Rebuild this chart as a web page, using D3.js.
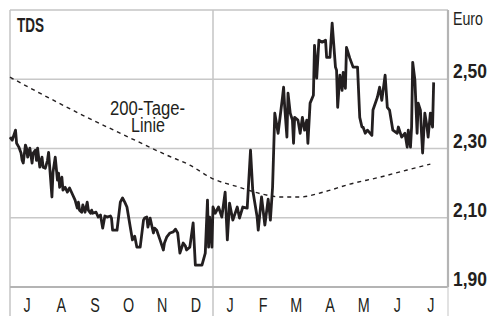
<!DOCTYPE html>
<html>
<head>
<meta charset="utf-8">
<script src="https://cdn.jsdelivr.net/npm/d3@7"></script>
<style>
  body { margin: 0; background: #fff; }
  svg text { font-family: "Liberation Sans", Arial, sans-serif; fill: #231f20; }
</style>
</head>
<body>
<script>
document.addEventListener("DOMContentLoaded", () => {
  // days since 1 July, closing price in Euro
  const priceDays = [0,2,5,6,8,10,11,12,14,15,16,18,20,21,23,24,25,27,29,30,32,34,35,36,38,39,41,43,44,45,47,48,50,52,54,57,59,61,62,63,65,66,68,70,71,73,74,75,78,80,82,84,86,88,91,92,93,97,100,102,104,106,109,111,113,115,118,121,122,124,125,127,130,131,133,136,139,140,142,145,148,150,152,154,157,159,160,163,166,168,170,174,177,179,180,181,183,184,186,189,192,195,197,199,202,206,208,211,215,218,220,224,225,228,231,234,236,238,240,243,247,248,249,251,252,254,256,257,258,261,263,265,267,269,270,272,275,276,278,280,283,286,287,290,292,295,296,297,299,301,302,304,305,308,311,315,317,319,320,322,324,328,329,333,335,337,340,342,344,347,351,352,355,358,360,361,363,364,365,367,369,370,372,373,374,376,378,379,381,383,384];
  const priceValues = [2.333,2.324,2.353,2.315,2.304,2.287,2.266,2.258,2.310,2.301,2.275,2.301,2.258,2.287,2.295,2.266,2.301,2.246,2.275,2.246,2.243,2.266,2.289,2.246,2.160,2.232,2.275,2.209,2.229,2.188,2.217,2.180,2.188,2.174,2.186,2.165,2.151,2.128,2.145,2.122,2.116,2.137,2.116,2.145,2.122,2.113,2.122,2.113,2.116,2.102,2.108,2.070,2.105,2.102,2.105,2.099,2.064,2.064,2.145,2.157,2.145,2.131,2.073,2.036,2.047,2.015,2.015,2.093,2.099,2.102,2.073,2.099,2.056,2.070,2.064,2.036,2.007,2.027,2.044,2.056,2.059,2.067,2.056,1.998,2.027,2.018,2.007,2.015,2.085,1.963,1.963,1.963,1.998,2.151,2.015,2.102,2.015,2.131,2.113,2.131,2.102,2.174,2.036,2.142,2.093,2.131,2.099,2.131,2.128,2.295,2.180,2.102,2.064,2.160,2.079,2.154,2.093,2.188,2.402,2.344,2.448,2.477,2.419,2.333,2.460,2.402,2.382,2.315,2.390,2.382,2.344,2.390,2.353,2.382,2.315,2.431,2.454,2.598,2.503,2.613,2.607,2.613,2.563,2.563,2.662,2.535,2.526,2.419,2.512,2.468,2.520,2.474,2.592,2.561,2.535,2.535,2.390,2.362,2.362,2.344,2.353,2.338,2.411,2.448,2.477,2.439,2.512,2.419,2.411,2.353,2.344,2.362,2.333,2.344,2.304,2.353,2.304,2.362,2.549,2.497,2.344,2.431,2.411,2.344,2.287,2.402,2.362,2.333,2.402,2.362,2.491];

  // 200-day moving average
  const avgDays = [0,27,66,104,142,163,183,208,229,245,263,284,308,335,360,381];
  const avgValues = [2.506,2.460,2.396,2.338,2.281,2.252,2.214,2.188,2.168,2.160,2.160,2.174,2.197,2.217,2.238,2.255];

  const monthLabels = ["J","A","S","O","N","D","J","F","M","A","M","J","J"];
  const yTicks = [1.9, 2.1, 2.3, 2.5];

  const w = 489, h = 316;
  const left = 10, right = 448, top = 10, bottom = 287;
  const start = new Date(2023, 6, 1);
  const end = new Date(2024, 7, 1);
  const dayDate = (d) => d3.timeDay.offset(start, d);

  const x = d3.scaleTime().domain([start, end]).range([left, right]);
  const y = d3.scaleLinear().domain([1.9, 2.7]).range([bottom, top]);

  const svg = d3.select("body")
    .append("svg")
    .attr("width", w)
    .attr("height", h);

  // frame + grid
  svg.append("line")
    .attr("x1", left).attr("x2", right).attr("y1", top).attr("y2", top)
    .attr("stroke", "#c4c4c4").attr("stroke-width", 1.5);
  svg.append("line")
    .attr("x1", left).attr("x2", left).attr("y1", top).attr("y2", h)
    .attr("stroke", "#c4c4c4").attr("stroke-width", 1.5);
  svg.append("line")
    .attr("x1", x(new Date(2024, 0, 1))).attr("x2", x(new Date(2024, 0, 1)))
    .attr("y1", top).attr("y2", h)
    .attr("stroke", "#c4c4c4").attr("stroke-width", 1.5);

  svg.selectAll("line.grid")
    .data(yTicks.slice(1))
    .enter()
    .append("line")
    .attr("class", "grid")
    .attr("x1", left).attr("x2", right)
    .attr("y1", (d) => y(d)).attr("y2", (d) => y(d))
    .attr("stroke", "#c8c8c8").attr("stroke-width", 1.5);

  svg.append("line")
    .attr("x1", left).attr("x2", right).attr("y1", y(1.9)).attr("y2", y(1.9))
    .attr("stroke", "#b4b4b4").attr("stroke-width", 2.2);
  svg.append("line")
    .attr("x1", right).attr("x2", right).attr("y1", top).attr("y2", bottom)
    .attr("stroke", "#b4b4b4").attr("stroke-width", 2.2);
  svg.append("line")
    .attr("x1", right).attr("x2", right).attr("y1", bottom).attr("y2", h)
    .attr("stroke", "#cfcfcf").attr("stroke-width", 1.2);

  // month labels centred in each month (condensed)
  const months = d3.timeMonth.range(start, end);
  svg.selectAll("text.month")
    .data(months)
    .enter()
    .append("text")
    .attr("class", "month")
    .attr("transform", (d) => `translate(${(x(d) + x(d3.timeMonth.offset(d, 1))) / 2},312) scale(0.7,1)`)
    .attr("text-anchor", "middle")
    .attr("font-size", 20.5)
    .text((d, i) => monthLabels[i]);

  // y labels
  svg.selectAll("text.ytick")
    .data(yTicks)
    .enter()
    .append("text")
    .attr("class", "ytick")
    .attr("x", 453)
    .attr("y", (d) => y(d) - 1)
    .attr("font-size", 20.5)
    .attr("font-weight", "bold")
    .attr("textLength", 34)
    .attr("lengthAdjust", "spacingAndGlyphs")
    .text((d) => d3.format(".2f")(d).replace(".", ","));

  svg.append("text")
    .attr("x", 453).attr("y", 25)
    .attr("font-size", 18)
    .attr("textLength", 30)
    .attr("lengthAdjust", "spacingAndGlyphs")
    .text("Euro");

  svg.append("text")
    .attr("x", 17).attr("y", 32)
    .attr("font-size", 20)
    .attr("font-weight", "bold")
    .attr("textLength", 27)
    .attr("lengthAdjust", "spacingAndGlyphs")
    .text("TDS");

  svg.append("text")
    .attr("x", 110).attr("y", 115)
    .attr("font-size", 20)
    .attr("textLength", 75)
    .attr("lengthAdjust", "spacingAndGlyphs")
    .text("200-Tage-");
  svg.append("text")
    .attr("x", 131).attr("y", 132)
    .attr("font-size", 20)
    .attr("textLength", 34)
    .attr("lengthAdjust", "spacingAndGlyphs")
    .text("Linie");

  // moving average
  const avg = avgDays.map((d, i) => ({ date: dayDate(d), value: avgValues[i] }));
  svg.append("path")
    .datum(avg)
    .attr("fill", "none")
    .attr("stroke", "#231f20")
    .attr("stroke-width", 1.4)
    .attr("stroke-dasharray", "4,4")
    .attr("d", d3.line().x((d) => x(d.date)).y((d) => y(d.value)).curve(d3.curveMonotoneX));

  // price line
  const prices = priceDays.map((d, i) => ({ date: dayDate(d), value: priceValues[i] }));
  svg.append("path")
    .datum(prices)
    .attr("fill", "none")
    .attr("stroke", "#231f20")
    .attr("stroke-width", 2.8)
    .attr("stroke-linejoin", "round")
    .attr("d", d3.line().x((d) => x(d.date)).y((d) => y(d.value)));
});
</script>
</body>
</html>
